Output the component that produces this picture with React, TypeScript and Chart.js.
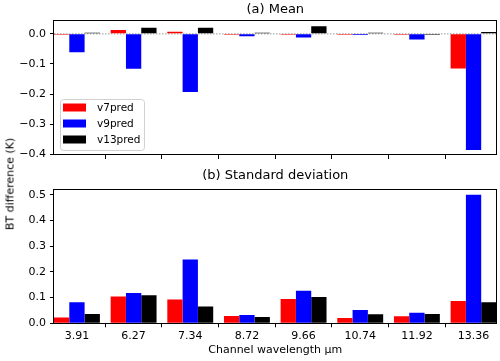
import React, { useEffect, useRef } from 'react';
import { Chart, registerables } from 'chart.js';
Chart.register(...registerables);

const FONT = "'DejaVu Sans', sans-serif";

const categories = ['3.91', '6.27', '7.34', '8.72', '9.66', '10.74', '11.92', '13.36'];
const seriesLabels = ['v7pred', 'v9pred', 'v13pred'];
const seriesColors = ['#ff0000', '#0000ff', '#000000'];

const meanV7 = [-0.001, 0.013, 0.007, -0.001, -0.002, -0.002, -0.002, -0.115];
const meanV9 = [-0.061, -0.116, -0.193, -0.008, -0.012, -0.004, -0.019, -0.385];
const meanV13 = [0.003, 0.02, 0.02, 0.001, 0.025, 0.002, -0.001, 0.006];

const sdV7 = [0.023, 0.104, 0.093, 0.028, 0.095, 0.021, 0.027, 0.087];
const sdV9 = [0.082, 0.118, 0.248, 0.032, 0.127, 0.052, 0.041, 0.501];
const sdV13 = [0.036, 0.109, 0.065, 0.025, 0.102, 0.035, 0.036, 0.082];

const meanTicks = [0, -0.1, -0.2, -0.3, -0.4];
const sdTicks = [0, 0.1, 0.2, 0.3, 0.4, 0.5];
const meanRange = [-0.402, 0.044];
const sdRange = [0, 0.523];
const xRange = [-0.405, 7.405];
const zeroLine = [0, 0];

function fmt(v: number) {
  const s = Math.abs(v) < 1e-9 ? '0.0' : v.toFixed(1);
  return s.replace('-', '\u2212');
}

const spinePlugin = {
  id: 'spines',
  afterDatasetsDraw(chart: any) {
    const { ctx, chartArea: a } = chart;
    ctx.save();
    ctx.strokeStyle = '#000';
    ctx.lineWidth = 1;
    const l = Math.floor(a.left) - 0.5;
    const t = Math.floor(a.top) + 0.5;
    const r = Math.ceil(a.right) - 0.5;
    const b = Math.ceil(a.bottom) - 0.5;
    ctx.strokeRect(l, t, r - l, b - t);
    ctx.restore();
  },
};

const legendPlugin = {
  id: 'insetLegend',
  afterDraw(chart: any) {
    const { ctx, chartArea: a } = chart;
    const items = chart.data.datasets.filter((d: any) => d.type !== 'line');
    const x0 = a.left + 6;
    const w = 84;
    const h = 51;
    const y0 = a.bottom - 5 - h;
    ctx.save();
    ctx.beginPath();
    ctx.roundRect(x0 + 0.5, y0 + 0.5, w, h, 3);
    ctx.fillStyle = 'rgba(255,255,255,0.8)';
    ctx.fill();
    ctx.strokeStyle = '#d0d0d0';
    ctx.lineWidth = 1;
    ctx.stroke();
    ctx.font = `10.5px ${FONT}`;
    ctx.textBaseline = 'middle';
    ctx.textAlign = 'left';
    items.forEach((d: any, i: number) => {
      const cy = y0 + 8.5 + i * 16;
      ctx.fillStyle = d.backgroundColor;
      ctx.fillRect(x0 + 3, cy - 4, 23, 8);
      ctx.fillStyle = '#000';
      ctx.fillText(d.label, x0 + 37, cy + 0.5);
    });
    ctx.restore();
  },
};

function barDatasets(series: number[][]) {
  return series.map((vals, k) => ({
    type: 'bar' as const,
    label: seriesLabels[k],
    data: vals.map((v, i) => ({ x: i, y: v })),
    backgroundColor: seriesColors[k],
    borderWidth: 0,
    categoryPercentage: 0.81,
    barPercentage: 1.0,
    minBarLength: 1,
    order: 1,
  }));
}

function xScale(showLabels: boolean, height: number) {
  return {
    type: 'linear' as const,
    position: 'bottom' as const,
    min: xRange[0],
    max: xRange[1],
    offset: false,
    afterBuildTicks: (s: any) => {
      s.ticks = categories.map((_, i) => ({ value: i }));
    },
    afterFit: (s: any) => {
      s.height = height;
    },
    grid: { display: true, drawOnChartArea: false, drawTicks: true, tickLength: 4, tickColor: '#000', tickWidth: 1 },
    border: { display: false },
    ticks: {
      display: showLabels,
      autoSkip: false,
      maxRotation: 0,
      padding: 2,
      color: '#000',
      font: { family: FONT, size: 11 },
      callback: (v: any) => categories[Math.round(Number(v))] ?? '',
    },
    title: showLabels
      ? {
          display: true,
          text: 'Channel wavelength \u03bcm',
          color: '#000',
          font: { family: FONT, size: 11 },
          padding: { top: 0, bottom: 4.4 },
        }
      : { display: false },
  };
}

function topTitleScale(text: string, height: number, padTop: number) {
  return {
    type: 'linear' as const,
    position: 'top' as const,
    display: true,
    min: xRange[0],
    max: xRange[1],
    afterFit: (s: any) => {
      s.height = height;
    },
    grid: { display: false },
    border: { display: false },
    ticks: { display: false },
    title: {
      display: true,
      text,
      color: '#000',
      font: { family: FONT, size: 13 },
      padding: { top: padTop, bottom: 0 },
    },
  };
}

function yScale(range: number[], ticks: number[]) {
  return {
    type: 'linear' as const,
    position: 'left' as const,
    min: range[0],
    max: range[1],
    afterBuildTicks: (s: any) => {
      s.ticks = ticks.map((v) => ({ value: v }));
    },
    afterFit: (s: any) => {
      s.width = 54;
    },
    grid: { display: true, drawOnChartArea: false, drawTicks: true, tickLength: 4, tickColor: '#000', tickWidth: 1 },
    border: { display: false },
    ticks: {
      padding: 4,
      color: '#000',
      font: { family: FONT, size: 11 },
      callback: (v: any) => fmt(Number(v)),
    },
  };
}

export default function App() {
  const topRef = useRef<HTMLCanvasElement>(null);
  const botRef = useRef<HTMLCanvasElement>(null);

  useEffect(() => {
    const common = {
      responsive: false,
      animation: false as const,
      devicePixelRatio: 1,
      plugins: { legend: { display: false }, tooltip: { enabled: false }, title: { display: false } },
    };

    const top = new Chart(topRef.current!, {
      type: 'bar',
      data: {
        datasets: [
          ...barDatasets([meanV7, meanV9, meanV13]),
          {
            type: 'line' as const,
            label: 'zero',
            data: xRange.map((x, i) => ({ x, y: zeroLine[i] })),
            borderColor: '#999999',
            borderWidth: 1,
            borderDash: [1.5, 1.5],
            pointRadius: 0,
            order: 5,
          } as any,
        ],
      },
      options: {
        ...common,
        layout: { padding: { left: 0, right: 3.5, top: 0, bottom: 0 } },
        scales: {
          x: xScale(false, 11),
          xt: topTitleScale('(a) Mean', 20.6, 2),
          y: yScale(meanRange, meanTicks),
        },
      } as any,
      plugins: [spinePlugin, legendPlugin],
    });

    const bot = new Chart(botRef.current!, {
      type: 'bar',
      data: { datasets: barDatasets([sdV7, sdV9, sdV13]) },
      options: {
        ...common,
        layout: { padding: { left: 0, right: 3.5, top: 0, bottom: 0 } },
        scales: {
          x: xScale(true, 37.7),
          xt: topTitleScale('(b) Standard deviation', 27, 6.2),
          y: yScale(sdRange, sdTicks),
        },
      } as any,
      plugins: [spinePlugin],
    });

    return () => {
      top.destroy();
      bot.destroy();
    };
  }, []);

  return (
    <div style={{ position: 'fixed', left: 0, top: 0, width: 500, height: 361, background: '#fff', overflow: 'hidden' }}>
      <canvas ref={topRef} width={500} height={166} style={{ position: 'absolute', left: 0, top: 0 }} />
      <canvas ref={botRef} width={500} height={199} style={{ position: 'absolute', left: 0, top: 162 }} />
      <div
        style={{
          position: 'absolute',
          left: 10,
          top: 183.5,
          transform: 'translate(-50%, -50%) rotate(-90deg)',
          fontFamily: FONT,
          fontSize: 11,
          color: '#000',
          whiteSpace: 'nowrap',
          lineHeight: 1,
        }}
      >
        BT difference (K)
      </div>
    </div>
  );
}
